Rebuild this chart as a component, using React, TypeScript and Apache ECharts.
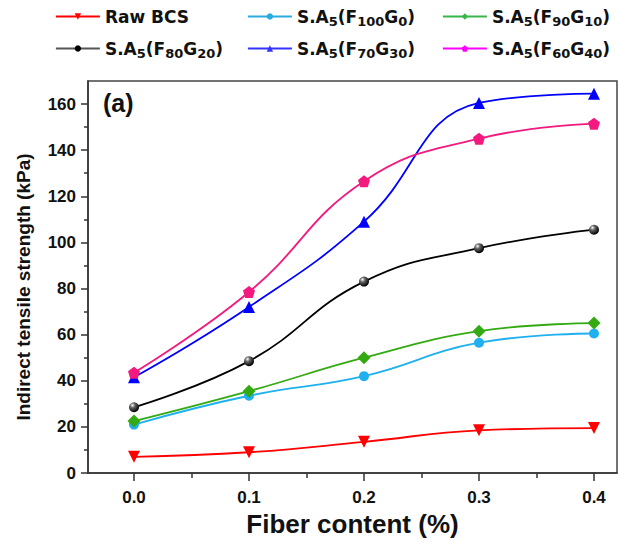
import React, { useEffect, useRef } from "react";
import * as echarts from "echarts";

const fiberContent = [0, 0.1, 0.2, 0.3, 0.4];
const xTickValues = [0, 0.1, 0.2, 0.3, 0.4];
const xMinorTickValues = [0.05, 0.15, 0.25, 0.35];
const yTickValues = [0, 20, 40, 60, 80, 100, 120, 140, 160];
const yMinorTickValues = [10, 30, 50, 70, 90, 110, 130, 150];

const rawBCS = [7, 9, 13.5, 18.5, 19.5];
const f100g0 = [21, 33.5, 42, 56.5, 60.5];
const f90g10 = [22.5, 35.5, 50, 61.5, 65];
const f80g20 = [28.5, 48.5, 83, 97.5, 105.5];
const f70g30 = [41.5, 72, 109, 160.5, 164.5];
const f60g40 = [43.5, 78.5, 126.5, 145, 151.5];

const names = [
  "Raw BCS",
  "S.A5(F100G0)",
  "S.A5(F90G10)",
  "S.A5(F80G20)",
  "S.A5(F70G30)",
  "S.A5(F60G40)",
];
const richNames: Record<string, string> = {
  "Raw BCS": "{b|Raw BCS}",
  "S.A5(F100G0)": "{b|S.A}{s|5}{b|(F}{s|100}{b|G}{s|0}{b|)}",
  "S.A5(F90G10)": "{b|S.A}{s|5}{b|(F}{s|90}{b|G}{s|10}{b|)}",
  "S.A5(F80G20)": "{b|S.A}{s|5}{b|(F}{s|80}{b|G}{s|20}{b|)}",
  "S.A5(F70G30)": "{b|S.A}{s|5}{b|(F}{s|70}{b|G}{s|30}{b|)}",
  "S.A5(F60G40)": "{b|S.A}{s|5}{b|(F}{s|60}{b|G}{s|40}{b|)}",
};

const PENTAGON = "path://M0,-1 L0.951,-0.309 L0.588,0.809 L-0.588,0.809 L-0.951,-0.309 Z";

export default function App() {
  const ref = useRef<HTMLDivElement>(null);
  useEffect(() => {
    if (!ref.current) return;
    const chart = echarts.init(ref.current, null, { renderer: "svg" });
    const font = "'Liberation Sans', Arial, sans-serif";
    const legendFont = "'DejaVu Sans', sans-serif";

    const sphere = new echarts.graphic.RadialGradient(0.35, 0.3, 0.7, [
      { offset: 0, color: "#ffffff" },
      { offset: 0.35, color: "#666666" },
      { offset: 1, color: "#000000" },
    ]);

    const mk = (
      name: string,
      vals: number[],
      color: string,
      symbol: string,
      size: number,
      extra: any = {}
    ) => ({
      name,
      type: "line",
      smooth: 0.45,
      data: fiberContent.map((x, i) => [x, vals[i]]),
      symbol,
      symbolSize: size,
      lineStyle: { color, width: 1.8 },
      itemStyle: { color },
      ...extra,
    });

    const legendPos = [
      { left: 55, top: 8 },
      { left: 247, top: 8 },
      { left: 442, top: 8 },
      { left: 55, top: 40 },
      { left: 247, top: 40 },
      { left: 442, top: 40 },
    ];
    const legendColors: Record<string, string> = {
      "Raw BCS": "#ff0000",
      "S.A5(F100G0)": "#29abe2",
      "S.A5(F90G10)": "#39b54a",
      "S.A5(F80G20)": "#555555",
      "S.A5(F70G30)": "#3333ff",
      "S.A5(F60G40)": "#ff00ff",
    };

    const legends = names.map((n, i) => ({
      data: [n],
      left: legendPos[i].left,
      top: legendPos[i].top,
      padding: 0,
      itemWidth: 44,
      itemHeight: 8,
      selectedMode: false,
      lineStyle: { color: legendColors[n], width: 1.8 },
      itemStyle: { color: n === "S.A5(F80G20)" ? "#000" : legendColors[n] },
      formatter: (name: string) => richNames[name],
      textStyle: {
        rich: {
          b: {
            fontFamily: legendFont,
            fontWeight: "bold",
            fontSize: 17,
            lineHeight: 22,
            color: "#111",
          },
          s: {
            fontFamily: legendFont,
            fontWeight: "bold",
            fontSize: 13,
            lineHeight: 13,
            verticalAlign: "bottom",
            color: "#111",
          },
        },
      },
    }));

    const axisLineStyle = { color: "#333", width: 1.5 };

    chart.setOption({
      animation: false,
      backgroundColor: "#ffffff",
      legend: legends,
      grid: {
        left: 88,
        right: 2,
        top: 81,
        bottom: 69,
        show: true,
        borderColor: "#444",
        borderWidth: 1.5,
        backgroundColor: "transparent",
      },
      xAxis: [
        {
          type: "value",
          min: -0.04,
          max: 0.42,
          name: "Fiber content (%)",
          nameLocation: "middle",
          nameGap: 38,
          nameTextStyle: { fontFamily: font, fontWeight: "bold", fontSize: 26, color: "#111" },
          axisLine: { onZero: false, lineStyle: axisLineStyle },
          axisTick: { show: true, length: 8, inside: false, customValues: xTickValues, lineStyle: axisLineStyle },
          axisLabel: {
            customValues: xTickValues,
            formatter: (v: number) => v.toFixed(1),
            fontFamily: font,
            fontWeight: "bold",
            fontSize: 17,
            color: "#111",
            margin: 16,
          },
          splitLine: { show: false },
        },
        {
          type: "value",
          min: -0.04,
          max: 0.42,
          position: "bottom",
          axisLine: { show: false, onZero: false },
          axisTick: { show: true, length: 5, customValues: xMinorTickValues, lineStyle: axisLineStyle },
          axisLabel: { show: false },
          splitLine: { show: false },
        },
      ],
      yAxis: [
        {
          type: "value",
          min: 0,
          max: 170,
          axisLine: { show: true, onZero: false, lineStyle: axisLineStyle },
          axisTick: { show: true, length: 7, customValues: yTickValues, lineStyle: axisLineStyle },
          axisLabel: {
            customValues: yTickValues,
            fontFamily: font,
            fontWeight: "bold",
            fontSize: 17,
            color: "#111",
            margin: 12,
          },
          splitLine: { show: false },
        },
        {
          type: "value",
          min: 0,
          max: 170,
          position: "left",
          axisLine: { show: false, onZero: false },
          axisTick: { show: true, length: 4, customValues: yMinorTickValues, lineStyle: axisLineStyle },
          axisLabel: { show: false },
          splitLine: { show: false },
        },
      ],
      graphic: [
        {
          type: "text",
          left: 103,
          top: 90,
          style: {
            text: "(a)",
            fontFamily: font,
            fontWeight: "bold",
            fontSize: 25,
            fill: "#111",
          },
        },
        {
          type: "text",
          x: 23,
          y: 287,
          rotation: Math.PI / 2,
          style: {
            text: "Indirect tensile strength (kPa)",
            fontFamily: font,
            fontWeight: "bold",
            fontSize: 19,
            fill: "#111",
            textAlign: "center",
            textVerticalAlign: "middle",
          },
        },
      ],
      series: [
        mk(names[0], rawBCS, "#ff0000", "triangle", 12, { symbolRotate: 180 }),
        mk(names[1], f100g0, "#1fb0ef", "circle", 10),
        mk(names[2], f90g10, "#33aa11", "diamond", 13),
        {
          ...mk(names[3], f80g20, "#000000", "circle", 10),
          itemStyle: { color: sphere },
        },
        mk(names[4], f70g30, "#0000ff", "triangle", 12),
        mk(names[5], f60g40, "#f21a7e", PENTAGON, 12),
      ],
    });
    return () => chart.dispose();
  }, []);
  return (
    <div
      ref={ref}
      style={{ position: "fixed", left: 0, top: 0, width: 619, height: 542, background: "#fff" }}
    />
  );
}
